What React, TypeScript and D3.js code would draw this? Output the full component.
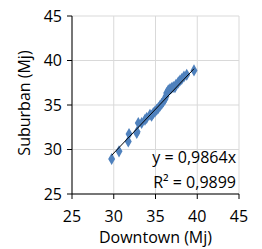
import React from "react";
import * as d3 from "d3";

// Scatter values (Downtown vs Suburban, Mj)
const downtown = [29.75, 30.63, 31.74, 31.83, 32.75, 32.8, 32.94, 33.34, 33.74, 33.94, 34.34, 34.54, 34.74, 34.94, 35.14, 35.34, 35.54, 35.74, 35.94, 36.14, 36.26, 36.34, 36.53, 36.74, 36.94, 37.13, 37.33, 37.45, 37.73, 37.93, 38.14, 38.41, 38.74, 39.61];
const suburban = [28.93, 29.79, 30.91, 31.74, 31.85, 32.0, 32.98, 32.98, 33.35, 33.54, 33.9, 33.8, 34.1, 34.28, 34.47, 34.66, 34.92, 35.15, 35.4, 35.67, 35.97, 36.35, 36.64, 36.8, 36.91, 37.02, 37.0, 37.28, 37.54, 37.76, 37.92, 38.21, 38.4, 38.89];
const ticks = [25, 30, 35, 40, 45];
const slope = 0.9864;
const eqLabel = "y = 0,9864x";
const r2Label = "R² = 0,9899";
const xTitle = "Downtown (Mj)";
const yTitle = "Suburban (Mj)";

const font = "'Open Sans', 'Liberation Sans', sans-serif";

export default function App() {
  const left = 72, right = 239, top = 16, bottom = 194;
  const x = d3.scaleLinear().domain([25, 45]).range([left, right]);
  const y = d3.scaleLinear().domain([25, 45]).range([bottom, top]);
  const pts = downtown.map((d, i) => [d, suburban[i]]);
  const xMin = d3.min(downtown)!, xMax = d3.max(downtown)!;
  const diamond = d3.symbol().type(d3.symbolDiamond).size(42)()!;

  return (
    <svg width={262} height={249} style={{ position: "absolute", left: 0, top: 0, background: "#fff" }}>
      {ticks.map((t) => (
        <g key={"g" + t}>
          <line x1={x(t)} x2={x(t)} y1={top} y2={bottom} stroke="#d9d9d9" />
          <line x1={left} x2={right} y1={y(t)} y2={y(t)} stroke="#d9d9d9" />
        </g>
      ))}
      <line x1={left} x2={left} y1={top} y2={bottom} stroke="#000" />
      <line x1={left} x2={right} y1={bottom} y2={bottom} stroke="#000" />
      {ticks.map((t) => (
        <g key={"t" + t}>
          <line x1={left - 5} x2={left} y1={y(t)} y2={y(t)} stroke="#000" />
          <line x1={x(t)} x2={x(t)} y1={bottom} y2={bottom + 5} stroke="#000" />
          <text x={left - 10} y={y(t)} dy="0.36em" textAnchor="end" fontFamily={font} fontSize={16} fill="#000">{t}</text>
          <text x={x(t)} y={bottom + 28} textAnchor="middle" fontFamily={font} fontSize={16} fill="#000">{t}</text>
        </g>
      ))}
      {pts.map((p, i) => (
        <path key={i} d={diamond} transform={`translate(${x(p[0])},${y(p[1])})`} fill="#4f81bd" />
      ))}
      <line x1={x(xMin)} y1={y(xMin * slope)} x2={x(xMax)} y2={y(xMax * slope)} stroke="#000" strokeWidth={1} />
      <text x={236} y={163} textAnchor="end" fontFamily={font} fontSize={16} fill="#000">{eqLabel}</text>
      <text x={236} y={188} textAnchor="end" fontFamily={font} fontSize={16} fill="#000">{r2Label}</text>
      <text x={(left + right) / 2} y={243} textAnchor="middle" fontFamily={font} fontSize={16} fill="#000">{xTitle}</text>
      <text transform={`translate(24,${(top + bottom) / 2 - 2}) rotate(-90)`} dy="0.35em" textAnchor="middle" fontFamily={font} fontSize={16} fill="#000">{yTitle}</text>
    </svg>
  );
}
